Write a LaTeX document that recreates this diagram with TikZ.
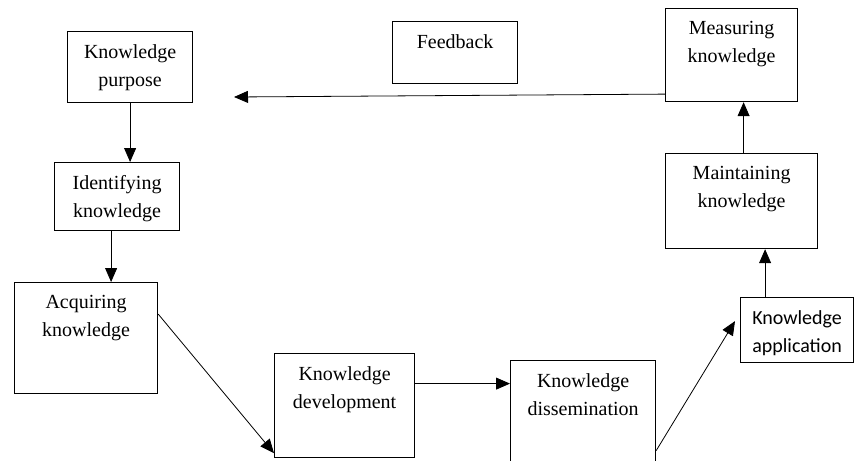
\documentclass[tikz,border=0pt]{standalone}
\usepackage{fontspec}
\setmainfont{Liberation Serif}
\newfontfamily\appfont{Carlito}
\usetikzlibrary{arrows.meta}

\begin{document}
\begin{tikzpicture}[x=1pt, y=-1pt]

\tikzset{box/.style = {draw, line width=1.2pt, inner sep=0pt, anchor=north west}}
\tikzset{boxtext/.style = {anchor=north, align=center, inner sep=0pt, yshift=-13pt, font=\fontsize{20}{28}\selectfont}}
\tikzset{edge/.style = {-{Triangle[length=14pt, width=12pt]}, line width=0.8pt}}

\useasboundingbox (0,0) rectangle (855,461);

%boxes
\node[box, minimum width=125pt, minimum height=71pt, label={[boxtext]north:Knowledge\\purpose}] (purpose) at (67,31) {};
\node[box, minimum width=125pt, minimum height=68pt, label={[boxtext]north:Identifying\\knowledge}] (identify) at (54,162) {};
\node[box, minimum width=143pt, minimum height=111pt, label={[boxtext]north:Acquiring\\knowledge}] (acquire) at (14,282) {};
\node[box, minimum width=140pt, minimum height=104pt, label={[boxtext]north:Knowledge\\development}] (develop) at (274,353) {};
\node[box, minimum width=145pt, minimum height=112pt, label={[boxtext]north:Knowledge\\dissemination}] (dissem) at (510,360) {};
\node[box, minimum width=113pt, minimum height=65pt, label={[boxtext, font=\appfont\fontsize{20}{28}\selectfont]north:Knowledge\\application}] (apply) at (740,297) {};
\node[box, minimum width=152pt, minimum height=95pt, label={[boxtext]north:Maintaining\\knowledge}] (maintain) at (665,153) {};
\node[box, minimum width=132pt, minimum height=93pt, label={[boxtext]north:Measuring\\knowledge}] (measure) at (665,8) {};
\node[box, minimum width=125pt, minimum height=62pt, label={[boxtext]north:Feedback}] (feedback) at (392,21) {};
\coordinate (back) at (234,97);

%edges
\draw[edge] (purpose.south) -- (purpose.south |- identify.north);
\draw[edge] ([xshift=-6pt]identify.south) -- ([xshift=-6pt]identify.south |- acquire.north);
\draw[edge] ([yshift=24pt]acquire.east) -- ([yshift=5pt]develop.south west);
\draw[edge] ([yshift=22pt]develop.east) coordinate (d1) -- (d1 -| dissem.west);
\draw[edge] ([yshift=-34pt]dissem.east) -- ([xshift=-5pt, yshift=9pt]apply.west);
\draw[edge] ([xshift=-32pt]apply.north) coordinate (a1) -- (a1 |- maintain.south);
\draw[edge] ([xshift=2pt]maintain.north) coordinate (m1) -- (m1 |- measure.south);
\draw[edge] ([yshift=-39pt]measure.west) -- (back);

\end{tikzpicture}
\end{document}
